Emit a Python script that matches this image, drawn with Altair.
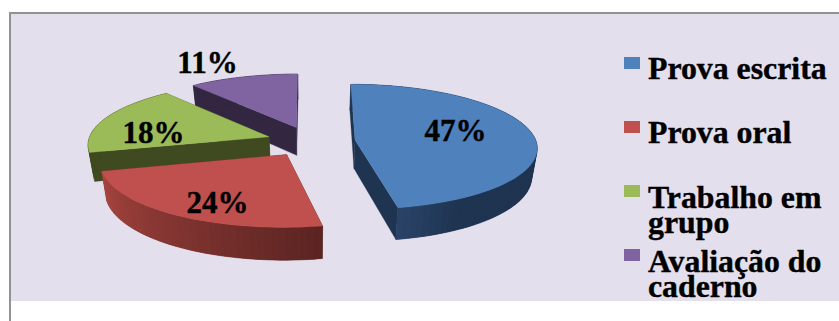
import numpy as np
import altair as alt

# Survey results
categories = ["Prova escrita", "Prova oral", "Trabalho em\ngrupo", "Avaliação do\ncaderno"]
values = [47, 24, 18, 11]

# Slice styling
top_colors = ["#4F81BD", "#C0504D", "#9BBB59", "#8064A2"]
wall_colors = ["#1E3450", "#5C2523", "#3F4A20", "#322641"]
rim_stops = [
    [(0, "#1E3450"), (150, "#1E3450"), (169.2, "#2A4468")],
    [(169.2, "#5A2422"), (255.6, "#A8453F")],
    [(255.6, "#3F4A20"), (320.4, "#3F4A20")],
    [(320.4, "#322641"), (360, "#322641")],
]
draw_order = [3, 2, 0, 1]

# Perspective camera for the tilted, exploded pie (all in pixels)
OX, OY = 311.0, 141.5
RX, RY = 181.0, 62.0
PERSP = 0.107
EXPLODE = 0.245
THICK = 28.5
BASE_SHRINK = 1.025

# Label placement
pct_x = [455.5, 217.5, 153.5, 207.5]
pct_y = [141, 213, 143, 73]
swatch_y = [57, 121, 185, 249]
legend_y = [79, 143, 208, 272]


def project(X, Y, base=False):
    w = 1 + PERSP * Y
    k = BASE_SHRINK if base else 1.0
    sx = OX + RX * X / (w * k)
    sy = OY - RY * Y / w + (THICK / w if base else 0.0)
    return [round(float(sx), 2), round(float(sy), 2)]


def hex_rgb(h):
    return np.array([int(h[i:i + 2], 16) for i in (1, 3, 5)], dtype=float)


def rim_color(stops, t):
    xs = [s[0] for s in stops]
    rgb = np.array([hex_rgb(s[1]) for s in stops])
    c = [int(round(np.interp(t, xs, rgb[:, i]))) for i in range(3)]
    return "#%02x%02x%02x" % tuple(c)


def polygon(points, fill):
    ring = points + [points[0]]
    return {
        "type": "Feature",
        "geometry": {"type": "Polygon", "coordinates": [ring]},
        "properties": {"fill": fill},
    }


edges = np.concatenate([[0], np.cumsum(values) * 3.6])
features = []
for i in draw_order:
    a0, a1 = edges[i], edges[i + 1]
    mid = np.radians((a0 + a1) / 2)
    dx, dy = EXPLODE * np.sin(mid), EXPLODE * np.cos(mid)
    ts = np.linspace(a0, a1, max(2, int((a1 - a0) / 2) + 1))
    Xs = dx + np.sin(np.radians(ts))
    Ys = dy + np.cos(np.radians(ts))
    last = len(ts) - 1

    # Flat side walls running from the slice's apex to its two ends
    for j in (0, -1):
        features.append(polygon(
            [project(dx, dy), project(Xs[j], Ys[j]),
             project(Xs[j], Ys[j], True), project(dx, dy, True)],
            wall_colors[i],
        ))
    # Curved outer wall, shaded in strips that overlap so no seams show
    for j in range(last):
        n = min(j + 2, last)
        features.append(polygon(
            [project(Xs[j], Ys[j])]
            + [project(Xs[m], Ys[m]) for m in range(j + 1, n + 1)]
            + [project(Xs[m], Ys[m], True) for m in range(n, j - 1, -1)],
            rim_color(rim_stops[i], (ts[j] + ts[j + 1]) / 2),
        ))
    # Top face
    features.append(polygon(
        [project(dx, dy)] + [project(x, y) for x, y in zip(Xs, Ys)],
        top_colors[i],
    ))

# Panel behind the pie
panel = alt.Chart(alt.Data(values=[{}])).mark_rect(color="#E4DFEC").encode(
    x=alt.value(11), x2=alt.value(839), y=alt.value(14), y2=alt.value(301)
)
border_top = alt.Chart(alt.Data(values=[{}])).mark_rect(color="#929292").encode(
    x=alt.value(9), x2=alt.value(839), y=alt.value(12), y2=alt.value(14)
)
border_left = alt.Chart(alt.Data(values=[{}])).mark_rect(color="#929292").encode(
    x=alt.value(9), x2=alt.value(11), y=alt.value(12), y2=alt.value(321)
)

pie = alt.Chart(alt.Data(values=features)).mark_geoshape(strokeWidth=0.3).encode(
    color=alt.Color("properties.fill:N", scale=None),
    stroke=alt.Stroke("properties.fill:N", scale=None),
).project(type="identity", scale=1, translate=[0, 0])

pct_rows = [
    {"label": f"{v}%", "x": x, "y": y}
    for v, x, y in zip(values, pct_x, pct_y)
]
pct_text = alt.Chart(alt.Data(values=pct_rows)).mark_text(
    font="Liberation Serif", fontWeight="bold", fontSize=31,
    baseline="alphabetic", align="center", color="#000000",
    stroke="#000000", strokeWidth=0.4,
).encode(
    x=alt.X("x:Q", scale=None), y=alt.Y("y:Q", scale=None), text="label:N"
)

legend_rows = [
    {"name": c, "fill": f, "sy": s, "sy2": s + 12, "ty": t}
    for c, f, s, t in zip(categories, top_colors, swatch_y, legend_y)
]
swatches = alt.Chart(alt.Data(values=legend_rows)).mark_rect().encode(
    x=alt.value(624), x2=alt.value(640),
    y=alt.Y("sy:Q", scale=None), y2="sy2:Q",
    color=alt.Color("fill:N", scale=None),
)
legend_text = alt.Chart(alt.Data(values=legend_rows)).mark_text(
    font="Liberation Serif", fontWeight="bold", fontSize=31.8,
    baseline="alphabetic", align="left", color="#000000",
    stroke="#000000", strokeWidth=0.4,
    lineBreak="\n", lineHeight=25,
).encode(
    x=alt.value(648), y=alt.Y("ty:Q", scale=None), text="name:N"
)

chart = alt.layer(
    panel, border_top, border_left, pie, pct_text, swatches, legend_text
).resolve_scale(color="independent", x="independent", y="independent").properties(
    width=839, height=321, padding=0, background="#FFFFFF",
    autosize=alt.AutoSizeParams(type="none"),
).configure_view(stroke=None)

chart.save("out.html", embed_options={"renderer": "svg", "actions": False})
